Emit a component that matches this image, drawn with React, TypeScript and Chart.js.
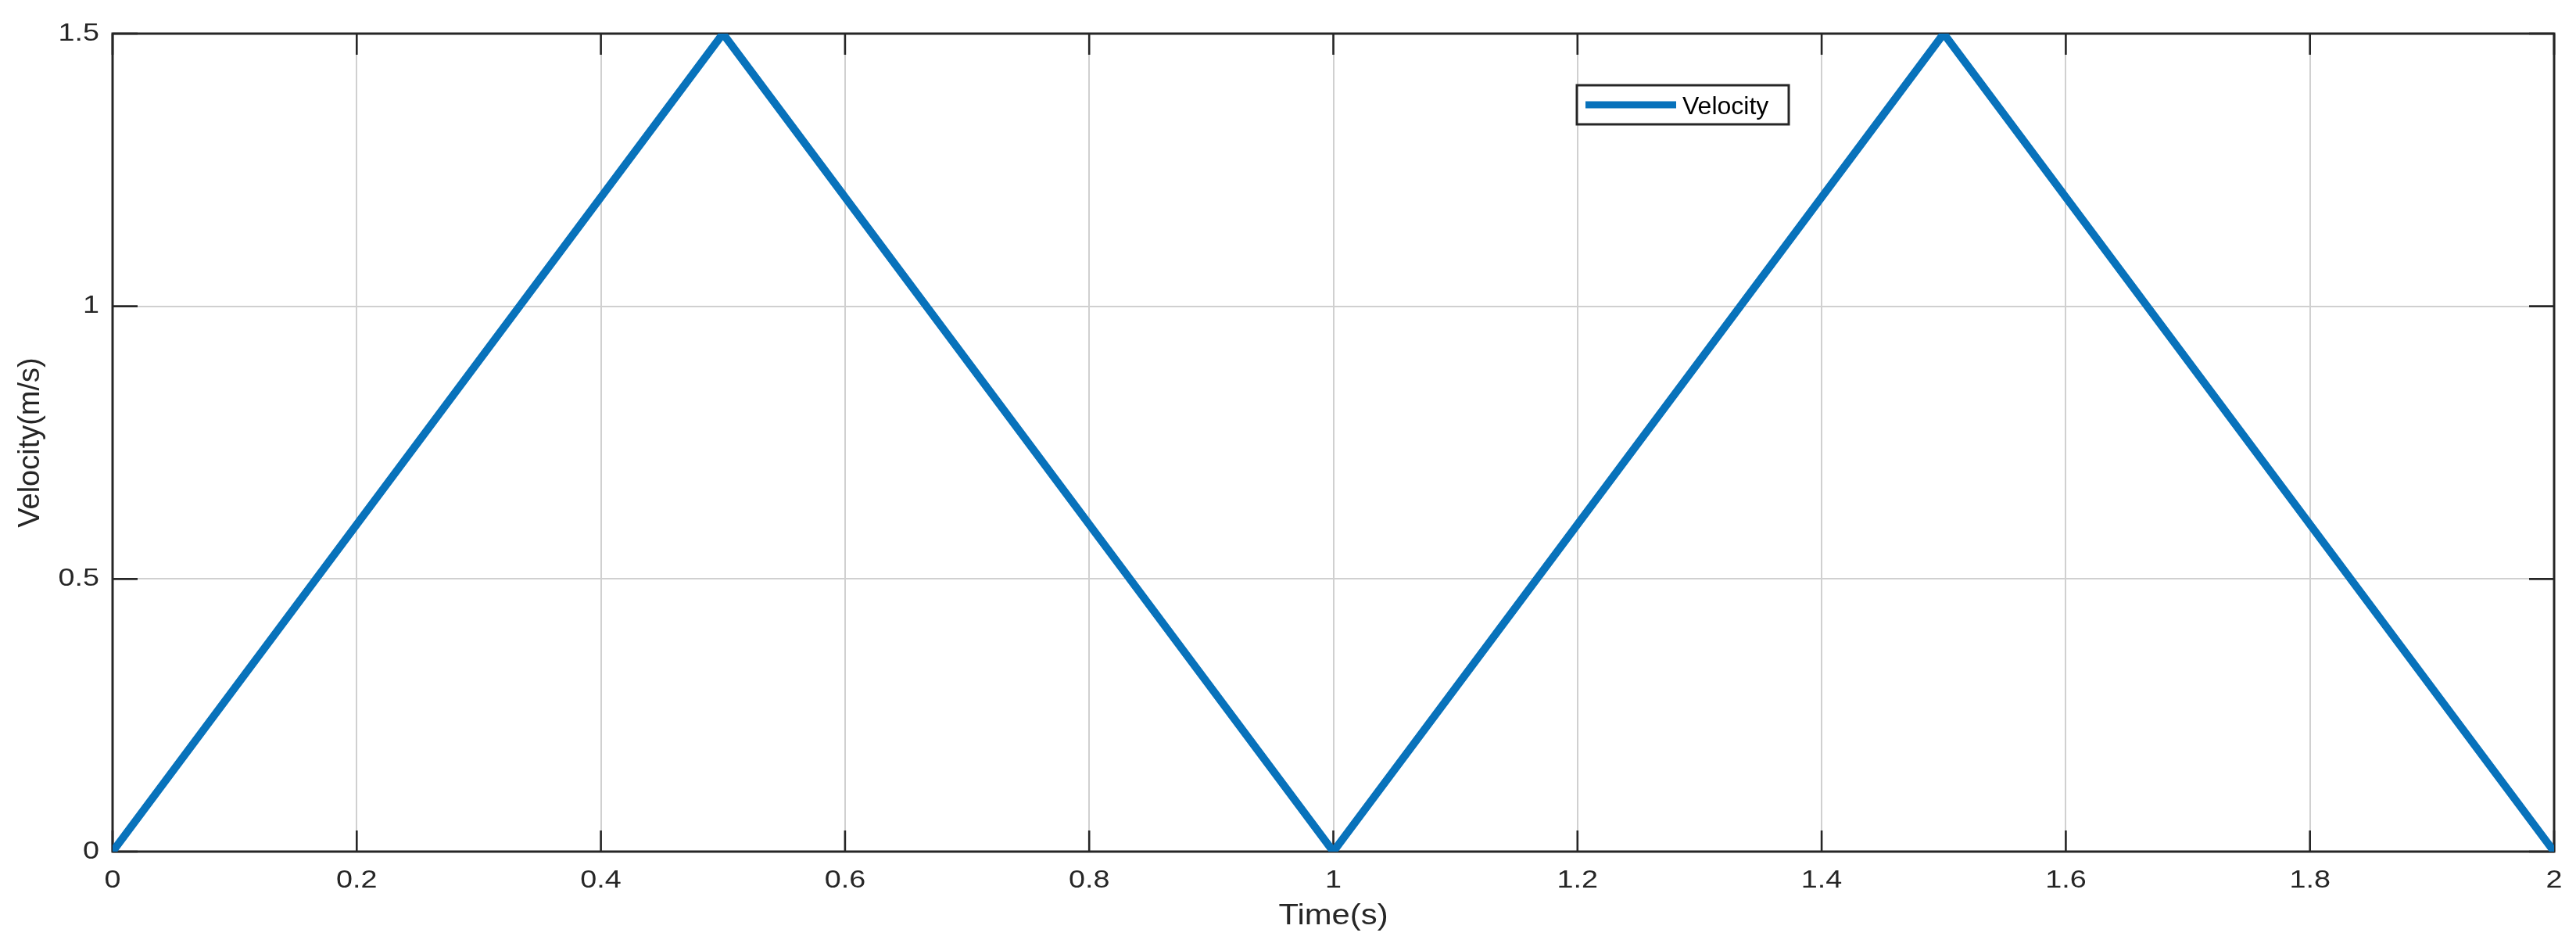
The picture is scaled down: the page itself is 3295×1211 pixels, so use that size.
import React, { useEffect, useRef } from 'react';
import { Chart, registerables, LinearScale } from 'chart.js';

Chart.register(...registerables);

// ---------------- data ----------------
const timeValues = [0, 0.5, 1, 1.5, 2];
const velocityValues = [0, 1.5, 0, 1.5, 0];
const xTickValues = [0, 0.2, 0.4, 0.6, 0.8, 1, 1.2, 1.4, 1.6, 1.8, 2];
const xTickLabels = ['0', '0.2', '0.4', '0.6', '0.8', '1', '1.2', '1.4', '1.6', '1.8', '2'];
const yTickValues = [0, 0.5, 1, 1.5];
const yTickLabels = ['0', '0.5', '1', '1.5'];
const seriesLabel = 'Velocity';
const xTitle = 'Time(s)';
const yTitle = 'Velocity(m/s)';

// ---------------- styles ----------------
const W = 3295;
const H = 1211;
const FONT = "'Liberation Sans', Arial, Helvetica, sans-serif";
const LINE_COLOR = '#0872BB';
const AXIS_COLOR = '#262626';
const GRID_COLOR = '#d0d0d0';

// horizontal glyph stretch of the reference text (per axis)
const STRETCH: Record<string, { labels: number; title: number }> = {
  x: { labels: 1.18, title: 1.13 },
  y: { labels: 1.18, title: 1 },
};

function withStretch(ctx: any, sx: number, fn: () => void) {
  if (sx === 1) {
    fn();
    return;
  }
  const orig = ctx.fillText;
  ctx.fillText = function (text: string, x: number, y: number, maxWidth?: number) {
    ctx.save();
    ctx.translate(x, y);
    ctx.scale(sx, 1);
    if (maxWidth === undefined) orig.call(ctx, text, 0, 0);
    else orig.call(ctx, text, 0, 0, maxWidth);
    ctx.restore();
  };
  try {
    fn();
  } finally {
    delete ctx.fillText;
  }
}

class StretchLinearScale extends LinearScale {
  static id = 'stretchLinear';
  static defaults = (LinearScale as any).defaults;
  drawLabels(area: any) {
    const s = STRETCH[(this as any).id] || { labels: 1, title: 1 };
    withStretch((this as any).ctx, s.labels, () => super.drawLabels(area));
  }
  drawTitle() {
    const s = STRETCH[(this as any).id] || { labels: 1, title: 1 };
    withStretch((this as any).ctx, s.title, () => (super.drawTitle as any)());
  }
}
Chart.register(StretchLinearScale as any);

const framePlugin = {
  id: 'matlabFrame',
  beforeDatasetsDraw(chart: any) {
    const { ctx, chartArea: a, scales } = chart;
    ctx.save();
    ctx.strokeStyle = AXIS_COLOR;
    ctx.lineWidth = 2.6;
    ctx.beginPath();
    for (const v of xTickValues) {
      const px = scales.x.getPixelForValue(v);
      ctx.moveTo(px, a.bottom);
      ctx.lineTo(px, a.bottom - 27);
      ctx.moveTo(px, a.top);
      ctx.lineTo(px, a.top + 27);
    }
    for (const v of yTickValues) {
      const py = scales.y.getPixelForValue(v);
      ctx.moveTo(a.left, py);
      ctx.lineTo(a.left + 32, py);
      ctx.moveTo(a.right, py);
      ctx.lineTo(a.right - 32, py);
    }
    ctx.stroke();
    ctx.lineWidth = 3;
    ctx.strokeRect(a.left, a.top, a.right - a.left, a.bottom - a.top);
    ctx.restore();
  },
};

const legendPlugin = {
  id: 'boxLegend',
  afterDatasetsDraw(chart: any) {
    const { ctx, chartArea: a } = chart;
    const ds = chart.data.datasets[0];
    const x0 = a.left + 1873;
    const y0 = a.top + 66;
    const w = 271;
    const h = 50;
    ctx.save();
    ctx.fillStyle = '#ffffff';
    ctx.fillRect(x0, y0, w, h);
    ctx.strokeStyle = AXIS_COLOR;
    ctx.lineWidth = 3;
    ctx.strokeRect(x0, y0, w, h);
    ctx.strokeStyle = ds.borderColor;
    ctx.lineWidth = 9;
    ctx.beginPath();
    ctx.moveTo(x0 + 11, y0 + 25);
    ctx.lineTo(x0 + 127, y0 + 25);
    ctx.stroke();
    ctx.fillStyle = '#000000';
    ctx.font = `32px ${FONT}`;
    ctx.textAlign = 'left';
    ctx.textBaseline = 'alphabetic';
    ctx.fillText(ds.label, x0 + 135, y0 + 37);
    ctx.restore();
  },
};

export default function App() {
  const canvasRef = useRef<HTMLCanvasElement | null>(null);

  useEffect(() => {
    const canvas = canvasRef.current;
    if (!canvas) return;
    const chart = new Chart(canvas, {
      type: 'line',
      data: {
        datasets: [
          {
            label: seriesLabel,
            data: timeValues.map((t, i) => ({ x: t, y: velocityValues[i] })),
            borderColor: LINE_COLOR,
            backgroundColor: LINE_COLOR,
            borderWidth: 10,
            pointRadius: 0,
            tension: 0,
            fill: false,
            borderJoinStyle: 'miter',
            borderCapStyle: 'butt',
          },
        ],
      },
      options: {
        responsive: false,
        animation: false,
        devicePixelRatio: 1,
        events: [],
        layout: { padding: { top: 43, right: 28, bottom: 0, left: 0 } },
        plugins: {
          legend: { display: false },
          tooltip: { enabled: false },
        },
        scales: {
          x: {
            type: 'stretchLinear' as any,
            min: 0,
            max: 2,
            afterBuildTicks: (scale: any) => {
              scale.ticks = xTickValues.map((v) => ({ value: v }));
            },
            afterFit: (scale: any) => {
              scale.height = 122;
            },
            grid: { color: GRID_COLOR, lineWidth: 2, drawTicks: false },
            border: { display: false },
            ticks: {
              autoSkip: false,
              maxRotation: 0,
              padding: 18,
              color: AXIS_COLOR,
              font: { family: FONT, size: 32 },
              callback: (_v: any, i: number) => xTickLabels[i],
            },
            title: {
              display: true,
              text: xTitle,
              color: AXIS_COLOR,
              font: { family: FONT, size: 37 },
              padding: { top: 0, bottom: 17 },
            },
          },
          y: {
            type: 'stretchLinear' as any,
            min: 0,
            max: 1.5,
            afterBuildTicks: (scale: any) => {
              scale.ticks = yTickValues.map((v) => ({ value: v }));
            },
            afterFit: (scale: any) => {
              scale.width = 144;
            },
            grid: { color: GRID_COLOR, lineWidth: 2, drawTicks: false },
            border: { display: false },
            ticks: {
              autoSkip: false,
              padding: 17,
              color: AXIS_COLOR,
              font: { family: FONT, size: 32 },
              callback: (_v: any, i: number) => yTickLabels[i],
            },
            title: {
              display: true,
              text: yTitle,
              color: AXIS_COLOR,
              font: { family: FONT, size: 38 },
              padding: { top: 17, bottom: 0 },
            },
          },
        },
      } as any,
      plugins: [framePlugin, legendPlugin],
    });
    return () => chart.destroy();
  }, []);

  return (
    <div style={{ position: 'fixed', left: 0, top: 0, width: W, height: H, background: '#ffffff' }}>
      <canvas ref={canvasRef} width={W} height={H} style={{ display: 'block', width: W, height: H }} />
    </div>
  );
}
